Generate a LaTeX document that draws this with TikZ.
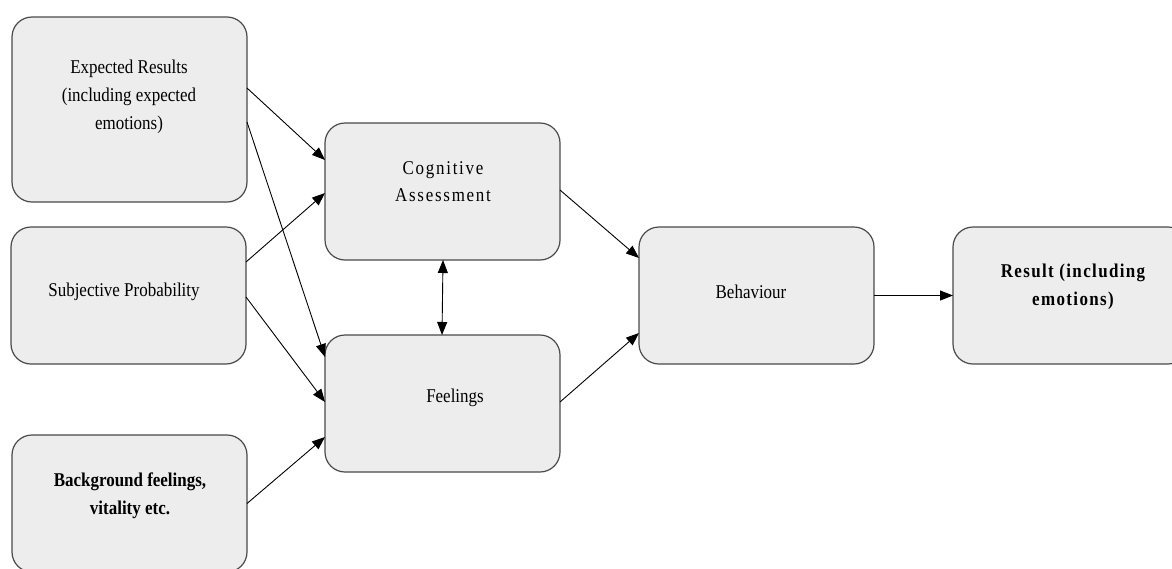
\documentclass[tikz,border=0pt]{standalone}
\usepackage{fontspec}
\setmainfont{Liberation Serif}[FakeStretch=0.87]
\usetikzlibrary{arrows.meta}
\definecolor{boxfill}{HTML}{EDEDED}
\definecolor{boxline}{HTML}{4A4A4A}
\begin{document}
\begin{tikzpicture}[x=1pt,y=-1pt,
  box/.style={draw=boxline,line width=1.2pt,fill=boxfill,rounded corners=20pt,
    minimum width=235pt,inner sep=0pt,outer sep=0pt},
  txt/.style={align=center,inner sep=0pt,font=\fontsize{19.5}{28}\selectfont},
  conn/.style={draw=black,line width=0.9pt,-{Triangle[length=13pt,width=10pt]}},
  dconn/.style={draw=black,line width=0.9pt,{Triangle[length=13pt,width=10pt]}-{Triangle[length=13pt,width=10pt]}}]
\useasboundingbox (0,0) rectangle (1172,568);
\clip (0,0) rectangle (1172,568);
% boxes
\node[box,minimum height=185pt] (b1) at (129.5,109.5) {};
\node[box,minimum height=137pt] (b2) at (128.5,295.5) {};
\node[box,minimum height=137pt] (b3) at (129.5,503.5) {};
\node[box,minimum height=137pt] (cog) at (442.5,191.5) {};
\node[box,minimum height=137pt] (feel) at (442.5,403.5) {};
\node[box,minimum height=137pt] (beh) at (756.5,295.5) {};
\node[box,minimum height=137pt] (res) at (1070.5,295.5) {};
% texts
\node[txt] (t1) at (129,97) {Expected Results\\(including expected\\emotions)};
\node[txt] (t2) at (124,292) {Subjective Probability};
\node[txt,font=\fontsize{19.5}{28}\selectfont\bfseries] (t3) at (130,496) {Background feelings,\\vitality etc.};
\node[txt,font=\fontsize{19.5}{27}\selectfont\addfontfeature{LetterSpace=9}] (tcog) at (443,181.5) {Cognitive\\Assessment};
\node[txt] (tfeel) at (455,398) {Feelings};
\node[txt] (tbeh) at (751,292) {Behaviour};
\node[txt,font=\fontsize{19.5}{28}\selectfont\bfseries\addfontfeature{LetterSpace=7}] (tres) at (1073,287) {Result (including\\emotions)};
% connectors
\draw[conn] ([yshift=21.5pt]b1.east) -- ([yshift=31.5pt]cog.west);
\draw[conn] ([yshift=-12.5pt]b1.east) -- ([yshift=46.5pt]feel.west);
\draw[conn] ([yshift=33.5pt]b2.east) -- ([yshift=-1.5pt]cog.west);
\draw[conn] ([yshift=-1.5pt]b2.east) -- ([yshift=1.5pt]feel.west);
\draw[conn] (b3.east) -- ([yshift=-33.5pt]feel.west);
\draw[conn] ([yshift=1.5pt]cog.east) -- ([yshift=37.5pt]beh.west);
\draw[conn] ([yshift=1.5pt]feel.east) -- ([yshift=-37.5pt]beh.west);
\draw[conn] (beh.east) -- (res.west);
\draw[dconn] ([xshift=0.5pt]cog.south) -- ([xshift=-0.5pt]feel.north);
\end{tikzpicture}
\end{document}
